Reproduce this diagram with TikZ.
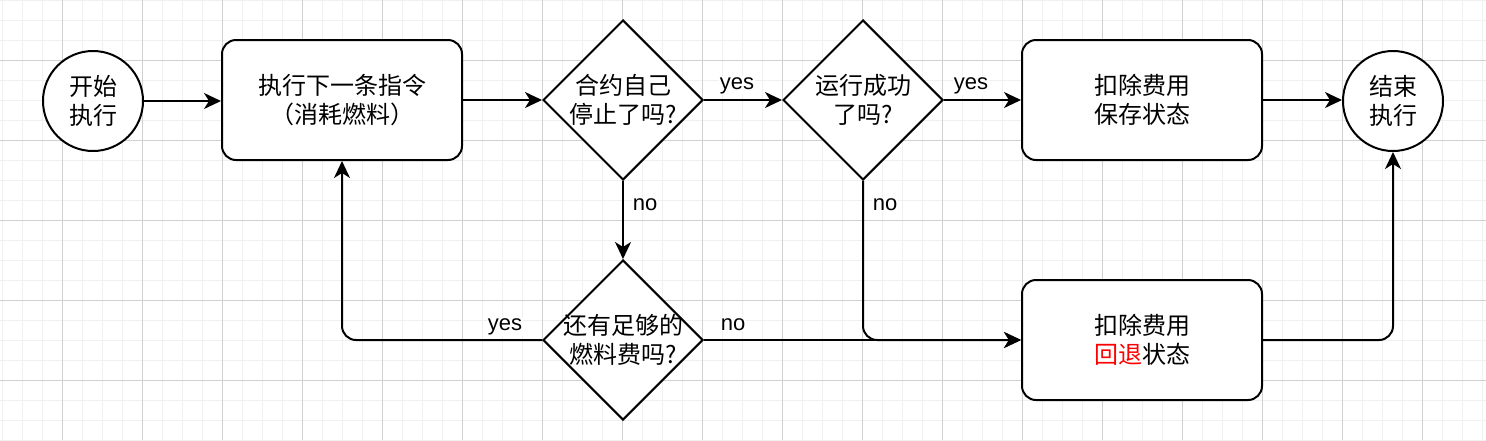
\documentclass[tikz,border=0pt]{standalone}
\usepackage{fontspec}
\setmainfont{Liberation Sans}
\newfontfamily\cjk{Noto Sans CJK SC}
\usetikzlibrary{arrows.meta,shapes.geometric}
\definecolor{gridminor}{HTML}{F0F0F0}
\definecolor{gridmajor}{HTML}{D0D0D0}
\definecolor{hl}{HTML}{FF0000}
\tikzset{
 box/.style={draw, line width=2pt, rounded corners=14pt, minimum width=240pt, minimum height=120pt, inner sep=0pt, fill=white},
 terminal/.style={draw, circle, line width=2pt, minimum size=100pt, inner sep=0pt, fill=white},
 decision/.style={draw, diamond, line width=2pt, minimum width=160pt, minimum height=160pt, inner sep=0pt, fill=white},
 txt/.style={font=\cjk\fontsize{24pt}{28.8pt}\selectfont, align=center, inner sep=0pt},
 lbl/.style={font=\fontsize{22pt}{26pt}\selectfont, fill=white, inner sep=1pt, anchor=base},
 arr/.style={line width=2pt, -{Stealth[length=17pt,width=16pt,inset=5pt]}, rounded corners=14pt},
 minorline/.style={draw=gridminor, line width=1pt},
 majorline/.style={draw=gridmajor, line width=1pt},
}
\begin{document}
\begin{tikzpicture}[x=1pt,y=-1pt]
\useasboundingbox (0,0) rectangle (1486,440);
\fill[white] (0,0) rectangle (1486,440);
% grid
\foreach \x in {2,22,...,1482} \draw[minorline] (\x,0) -- (\x,440);
\foreach \y in {0,20,...,440} \draw[minorline] (0,\y) -- (1486,\y);
\foreach \x in {62,142,...,1422} \draw[majorline] (\x,0) -- (\x,440);
\foreach \y in {60,140,...,380} \draw[majorline] (0,\y) -- (1486,\y);
% nodes
\node[terminal, txt] (start) at (93,101) {开始\\执行};
\node[box, txt] (b1) at (342,100) {执行下一条指令\\（消耗燃料）};
\node[decision] (d1) at (623,100) {};
\node[txt] (d1t) at (d1.center) {合约自己\\停止了吗?};
\node[decision] (d2) at (863,100) {};
\node[txt] (d2t) at (d2.center) {运行成功\\了吗?};
\node[box, txt] (b2) at (1142,100) {扣除费用\\保存状态};
\node[terminal, txt] (end) at (1393,101) {结束\\执行};
\node[decision] (d3) at (623,340) {};
\node[txt] (d3t) at (d3.center) {还有足够的\\燃料费吗?};
\node[box, txt] (b3) at (1142,340) {扣除费用\\{\color{hl}回退}状态};
% connectors
\draw[arr] (start) -- (b1.west |- start);
\draw[arr] (b1) -- (d1);
\draw[arr] (d1) -- (d2);
\draw[arr] (d2) -- (b2);
\draw[arr] (b2) -- (end.west |- b2);
\draw[arr] (d1) -- (d3);
\draw[arr] (d2.south) |- (b3.west);
\draw[arr] (d3.east) -- (b3.west);
\draw[arr] (d3.west) -| (b1.south);
\draw[arr] (b3.east) -| (end.south);
% labels
\node[lbl] (l1) at (737,89) {yes};
\node[lbl] (l2) at (971,89) {yes};
\node[lbl] (l3) at (645,210) {no};
\node[lbl] (l4) at (885,210) {no};
\node[lbl] (l5) at (505,330) {yes};
\node[lbl] (l6) at (733,330) {no};
\end{tikzpicture}
\end{document}
